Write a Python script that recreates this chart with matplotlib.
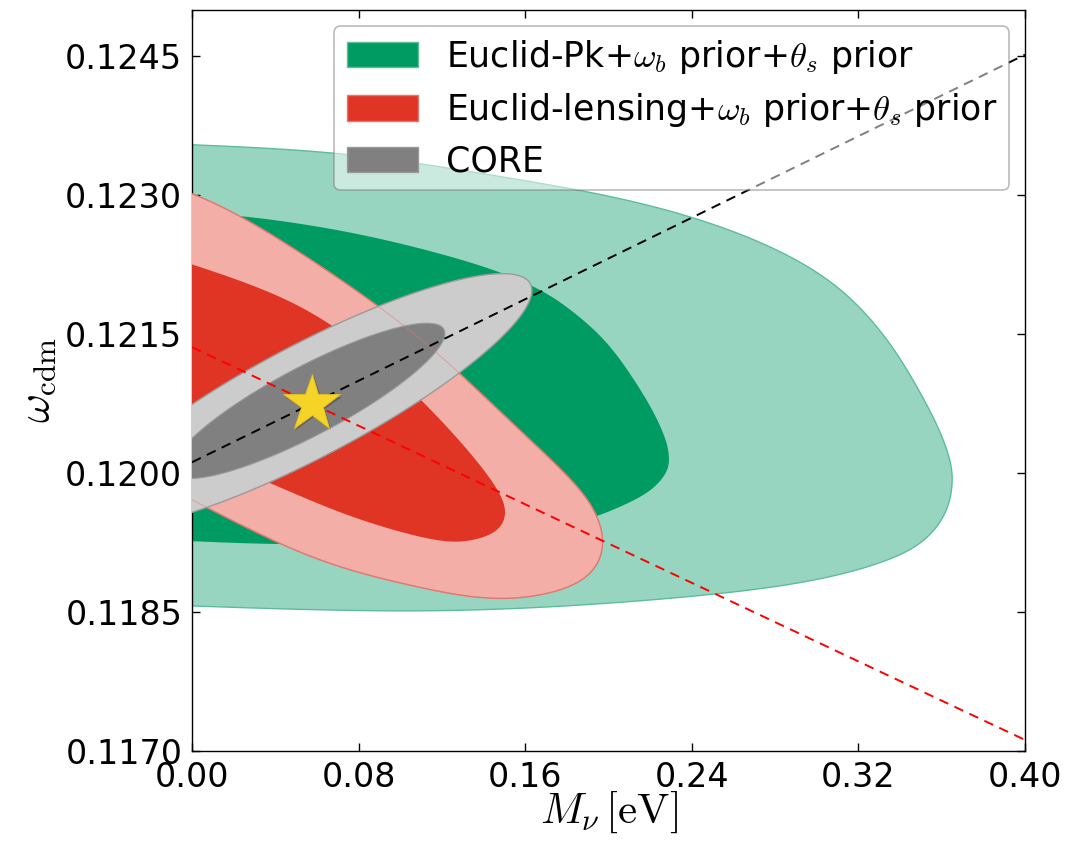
import numpy as np
import matplotlib
matplotlib.use("Agg")
import matplotlib.pyplot as plt
from matplotlib.patches import Patch
import matplotlib.patheffects as pe

plt.rcParams["font.family"] = ["DejaVu Sans"]
plt.rcParams["mathtext.fontset"] = "cm"

# ---- contour outlines (M_nu [eV], omega_cdm), traced from the upper-left
# end round to the lower-left end; the M_nu = 0 prior edge closes them ----
# Euclid-Pk + priors, 95% and 68% regions
pk95_mnu = [-0.005, 0.0471, 0.0903, 0.1383, 0.1993, 0.2425, 0.2790, 0.3078, 0.3270, 0.3400,
            0.3510, 0.3592, 0.3649, 0.3654, 0.3625, 0.3544, 0.3400, 0.3049, 0.2550, 0.1767,
            0.0999, -0.005]
pk95_wcdm = [0.12355, 0.12350, 0.12341, 0.12324, 0.12301, 0.12276, 0.12245, 0.12208, 0.12165, 0.12125,
             0.12082, 0.12046, 0.12011, 0.11985, 0.11957, 0.11931, 0.11909, 0.11885, 0.11869, 0.11855,
             0.11849, 0.11857]
pk68_mnu = [-0.005, 0.0245, 0.0567, 0.0903, 0.1383, 0.1671, 0.1830, 0.1993, 0.2118, 0.2214,
            0.2281, 0.2295, 0.2281, 0.2214, 0.2103, 0.1945, 0.1767, 0.1479, 0.0999, 0.0471, -0.005]
pk68_wcdm = [0.12282, 0.12278, 0.12268, 0.12254, 0.12226, 0.12200, 0.12175, 0.12143, 0.12103, 0.12068,
             0.12035, 0.12014, 0.12000, 0.11982, 0.11968, 0.11953, 0.11941, 0.11931, 0.11925, 0.11922,
             0.11927]

# Euclid-lensing + priors, 95% and 68% regions
lens95_mnu = [-0.005, 0.0245, 0.0965, 0.1287, 0.1561, 0.1767, 0.1911, 0.1974, 0.1974, 0.1926,
              0.1801, 0.1561, 0.1321, 0.1080, 0.0744, 0.0423, -0.005]
lens95_wcdm = [0.12306, 0.12280, 0.12172, 0.12108, 0.12049, 0.12006, 0.11971, 0.11939, 0.11914, 0.11892,
               0.11874, 0.11863, 0.11866, 0.11877, 0.11895, 0.11922, 0.11977]
lens68_mnu = [-0.005, 0.0423, 0.0744, 0.1061, 0.1349, 0.1493, 0.1513, 0.1465, 0.1321, 0.1157,
              0.0744, 0.0423, -0.005]
lens68_wcdm = [0.12229, 0.12194, 0.12151, 0.12090, 0.12020, 0.11976, 0.11953, 0.11935, 0.11925, 0.11926,
               0.11953, 0.11985, 0.12029]

# CORE forecast: Gaussian posterior (mean, sigmas, correlation)
core_mean = [0.0559, 0.12078]
core_sigma = [0.0432, 0.000553]
core_rho = 0.868
chi2_levels = [2.30, 6.17]

# fiducial model and degeneracy directions
fid_mnu, fid_wcdm = 0.0575, 0.12075
slope_core = 0.0110
slope_lens = -0.0106

labels = [r"Euclid-Pk+$\omega_b$ prior+$\theta_s$ prior",
          r"Euclid-lensing+$\omega_b$ prior+$\theta_s$ prior",
          "CORE"]
xticks = [0.00, 0.08, 0.16, 0.24, 0.32, 0.40]
yticks = [0.1170, 0.1185, 0.1200, 0.1215, 0.1230, 0.1245]

XLIM = (0.0, 0.40)
YLIM = (0.1170, 0.1250)


def smooth_open(xs, ys, n=30):
    """Clamped uniform cubic B-spline through the outline control points."""
    P = np.column_stack([xs, ys]).astype(float)
    P = np.vstack([P[0], P[0], P, P[-1], P[-1]])
    t = np.linspace(0, 1, n, endpoint=False)[:, None]
    w0 = (1 - t) ** 3 / 6
    w1 = (3 * t ** 3 - 6 * t ** 2 + 4) / 6
    w2 = (-3 * t ** 3 + 3 * t ** 2 + 3 * t + 1) / 6
    w3 = t ** 3 / 6
    out = [w0 * P[i] + w1 * P[i + 1] + w2 * P[i + 2] + w3 * P[i + 3]
           for i in range(len(P) - 3)]
    out.append(P[-1][None, :])
    out = np.vstack(out)
    return out[:, 0], out[:, 1]


def gauss_ellipse(mean, sigma, rho, level, n=400):
    cov = np.array([[sigma[0] ** 2, rho * sigma[0] * sigma[1]],
                    [rho * sigma[0] * sigma[1], sigma[1] ** 2]])
    L = np.linalg.cholesky(cov)
    th = np.linspace(0, 2 * np.pi, n)
    pts = (L @ np.vstack([np.cos(th), np.sin(th)])) * np.sqrt(level)
    return pts[0] + mean[0], pts[1] + mean[1]


fig = plt.figure(figsize=(10.79, 8.41), dpi=100)
ax = fig.add_axes([0.17794, 0.10702, 0.77201, 0.88109])

c_pk_lo, c_pk_hi, c_pk_edge = "#97d5c0", "#009a63", "#5dbd98"
c_le_lo, c_le_hi, c_le_edge = "#f2aea7", "#e03424", "#e07a70"
c_co_lo, c_co_hi, c_co_edge = "#cccccc", "#808080", "#9a9a9a"

x, y = smooth_open(pk95_mnu, pk95_wcdm)
ax.fill(x, y, facecolor=c_pk_lo, edgecolor=c_pk_edge, lw=1.0, zorder=1)
x, y = smooth_open(pk68_mnu, pk68_wcdm)
ax.fill(x, y, facecolor=c_pk_hi, edgecolor="none", zorder=2)

x95l, y95l = smooth_open(lens95_mnu, lens95_wcdm)
ax.fill(x95l, y95l, facecolor=c_le_lo, edgecolor=c_le_edge, lw=1.0, zorder=3)
x, y = smooth_open(lens68_mnu, lens68_wcdm)
ax.fill(x, y, facecolor=c_le_hi, edgecolor="none", zorder=4)

x, y = gauss_ellipse(core_mean, core_sigma, core_rho, chi2_levels[1])
ax.fill(x, y, facecolor=c_co_lo, edgecolor=c_co_edge, lw=1.0, zorder=5)
x, y = gauss_ellipse(core_mean, core_sigma, core_rho, chi2_levels[0])
ax.fill(x, y, facecolor=c_co_hi, edgecolor=c_co_edge, lw=0.8, zorder=6)

# lensing 95% boundary seen through the CORE regions
ax.plot(x95l, y95l, color=c_le_edge, lw=0.8, alpha=0.45, zorder=7)

xx = np.array([0.0, 0.40])
ax.plot(xx, fid_wcdm + slope_lens * (xx - fid_mnu), color="red", lw=1.4,
        ls=(0, (5, 3.5)), zorder=8)
ax.plot(xx, fid_wcdm + slope_core * (xx - fid_mnu), color="black", lw=1.4,
        ls=(0, (5, 3.5)), zorder=9)

ax.plot([fid_mnu], [fid_wcdm], marker="*", ms=43, color="#f5d327",
        markeredgecolor="#e0bf22", markeredgewidth=0.6, zorder=10,
        path_effects=[pe.SimplePatchShadow(offset=(1.5, -1.5), shadow_rgbFace="k", alpha=0.22),
                      pe.Normal()])

ax.set_xlim(*XLIM)
ax.set_ylim(*YLIM)
ax.set_xticks(xticks)
ax.set_yticks(yticks)
ax.set_xticklabels([f"{v:.2f}" for v in xticks])
ax.set_yticklabels([f"{v:.4f}" for v in yticks])
ax.tick_params(direction="in", length=6, width=1, labelsize=24, top=True, right=True, pad=7)
for s in ax.spines.values():
    s.set_linewidth(1.0)

ax.set_xlabel(r"$M_\nu\,[\mathrm{eV}]$", fontsize=31, labelpad=-3)
ax.set_ylabel(r"$\omega_{\rm cdm}$", fontsize=32, labelpad=5)

handles = [Patch(facecolor=c_pk_hi, edgecolor=c_pk_edge),
           Patch(facecolor=c_le_hi, edgecolor=c_le_edge),
           Patch(facecolor=c_co_hi, edgecolor=c_co_edge)]
leg = ax.legend(handles, labels, loc="upper right", fontsize=25, framealpha=0.5,
                fancybox=True, edgecolor="#777777", handlelength=2.07, handleheight=0.75,
                handletextpad=0.79, labelspacing=0.44, borderpad=0.35, borderaxespad=0.45)
leg.get_frame().set_linewidth(1.2)
leg.set_zorder(20)

fig.savefig("out.png", dpi=100)
